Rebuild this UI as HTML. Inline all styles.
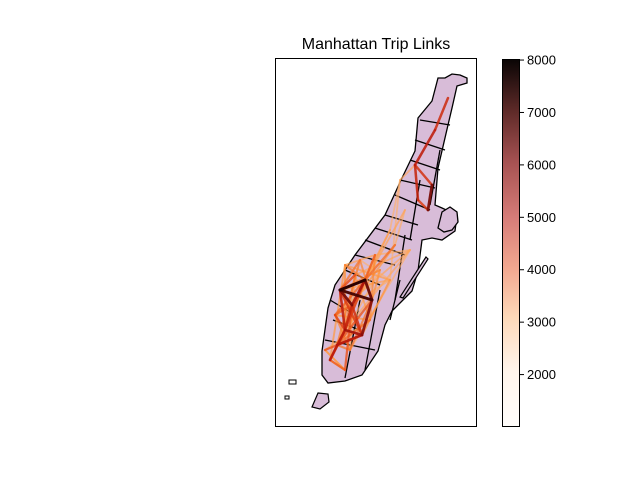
<!DOCTYPE html>
<html><head><meta charset="utf-8"><style>
html,body{margin:0;padding:0;background:#fff}
svg{display:block;font-family:"Liberation Sans","DejaVu Sans",sans-serif}
</style></head><body>
<svg id="c" width="640" height="480" viewBox="0 0 640 480">
<defs>
<linearGradient id="cm" x1="0" y1="1" x2="0" y2="0">
<stop offset="0" stop-color="#fffdfb"/>
<stop offset="0.15" stop-color="#fff5ec"/>
<stop offset="0.3" stop-color="#fdd8b8"/>
<stop offset="0.43" stop-color="#f2a890"/>
<stop offset="0.57" stop-color="#d67c78"/>
<stop offset="0.72" stop-color="#a65252"/>
<stop offset="0.86" stop-color="#5e2a28"/>
<stop offset="1" stop-color="#0a0505"/>
</linearGradient>
<clipPath id="ax"><rect x="275" y="58" width="202" height="369"/></clipPath>
</defs>
<text x="376" y="49" text-anchor="middle" font-size="16">Manhattan Trip Links</text>
<g id="map" clip-path="url(#ax)">
<polygon fill="#d8bcd8" stroke="#000" stroke-width="1.3" points="460,75 467,78 467,83 457,86 452,108 448,125 438,168 435,205 442,208 457,215 455,231 442,240 432,238 422,240 418,271 412,291 392,311 385,325 378,351 362,375 345,381 328,383 322,375 322,351 328,308 335,285 355,255 385,215 402,178 415,151 418,118 432,101 438,78 445,78 452,74"/>
<polygon fill="#d8bcd8" stroke="#000" stroke-width="1.3" points="442,212 450,207 457,212 458,222 452,230 444,232 438,228"/>
<polygon fill="#d8bcd8" stroke="#000" stroke-width="1.2" points="426,257 428,259 403,298 400,297"/>
<polygon fill="#d8bcd8" stroke="#000" stroke-width="1.2" points="318,393 328,394 329,402 320,409 312,407"/>
<rect x="289" y="380" width="7" height="4" fill="none" stroke="#000"/>
<rect x="285" y="396" width="4" height="3" fill="none" stroke="#000"/>
<g id="bounds" stroke="#000" stroke-width="1.3"></g>
<g id="links" stroke-linecap="round"></g>
</g>
<rect x="275.5" y="58.5" width="201" height="368" fill="none" stroke="#000"/>
<rect x="502.5" y="59.5" width="17" height="367" fill="url(#cm)" stroke="#000"/>
<g id="cticks" font-size="13"></g>
</svg>
<script>
// colorbar
const cbTicks=[2000,3000,4000,5000,6000,7000,8000];
const cbMin=1000, cbMax=8020;
// zones (map nodes) and links
const zoneX=[340,365,372,345,362,337,330,352,380,395,448,435,415,432,428,418,390,405,360,345,325,400,355,375,335,350,390,370,410,345];
const zoneY=[290,280,300,330,335,345,360,305,270,245,98,130,165,185,210,200,230,210,260,370,350,180,275,255,315,350,280,320,250,265];
const linkFrom=[0,0,0,1,1,2,2,3,3,4,5,0,1,7,7,6,8,9,10,11,12,13,14,12,8,9,18,18,19,20,16,17,21,2,4,6,0,3,9,16,22,22,23,23,24,24,25,25,26,26,27,27,28,28,29,29,22,23,24,25,26,27,28,29,1,5,7,3,20,19,6,26,28,16,21];
const linkTo=[1,2,3,2,3,4,5,4,5,5,6,7,7,3,4,3,0,1,11,12,13,14,15,15,2,7,0,5,6,19,1,7,12,18,20,19,4,6,17,21,0,3,1,5,3,7,2,24,0,4,5,22,3,23,1,6,25,27,26,28,29,24,22,23,24,25,19,29,27,20,8,18,24,5,26];
const linkVal=[8000,7600,6000,7200,5200,6800,4500,6500,4800,6200,5000,7000,6400,5800,5500,4200,3500,4000,5600,6000,5400,7000,5200,5800,3200,3000,3800,3600,4200,3000,2800,2600,2400,3400,4600,3900,5200,6100,2200,2000,4800,3600,4400,3000,5000,4200,3800,3400,2600,3200,4000,2800,2400,2200,3600,3000,2600,3400,2200,2000,2800,3000,2400,2600,4200,3800,4600,3200,2400,2600,2200,2000,2400,2200,2000];
const bLines=[[330,300,350,312],[333,320,360,330],[325,340,375,350],[345,270,380,285],[355,255,395,265],[365,240,405,255],[375,228,412,240],[385,215,418,225],[395,195,430,210],[400,180,435,188],[410,160,440,170],[415,140,445,150],[420,120,450,125],[360,300,345,378],[380,290,365,370],[400,280,390,320],[405,235,395,300],[420,180,410,240],[440,150,430,205]];
function cbY(v){return 427-(v-cbMin)/(cbMax-cbMin)*368;}
function lcol(v){
 const t=Math.max(0,Math.min(1,(v-cbMin)/(cbMax-cbMin)));
 const p=[[0,[255,200,150]],[0.3,[255,150,60]],[0.55,[230,70,20]],[0.75,[180,20,10]],[1,[40,0,0]]];
 for(let i=1;i<p.length;i++){if(t<=p[i][0]){const a=p[i-1],b=p[i],f=(t-a[0])/(b[0]-a[0]);return 'rgb('+a[1].map((c,k)=>Math.round(c+(b[1][k]-c)*f)).join(',')+')';}}
 return 'rgb(40,0,0)';
}
const NS='http://www.w3.org/2000/svg';
const bg=document.getElementById('bounds');
bLines.forEach((b,i)=>{const l=document.createElementNS(NS,'line');
l.setAttribute('x1',b[0]);l.setAttribute('y1',b[1]);l.setAttribute('x2',b[2]);l.setAttribute('y2',b[3]);


bg.appendChild(l);});
const lg=document.getElementById('links');
const order=linkVal.map((v,i)=>i).sort((a,b)=>linkVal[a]-linkVal[b]);
order.forEach(i=>{const f=linkFrom[i],t=linkTo[i],v=linkVal[i];const l=document.createElementNS(NS,'line');
l.setAttribute('x1',zoneX[f]);l.setAttribute('y1',zoneY[f]);l.setAttribute('x2',zoneX[t]);l.setAttribute('y2',zoneY[t]);
l.setAttribute('stroke',lcol(v));l.setAttribute('stroke-width',1.5+1.5*(v-cbMin)/(cbMax-cbMin));l.setAttribute('stroke-opacity',0.6+0.4*(v-cbMin)/(cbMax-cbMin));


lg.appendChild(l);});
const cg=document.getElementById('cticks');
cbTicks.forEach(v=>{const y=cbY(v);
const tk=document.createElementNS(NS,'line');tk.setAttribute('x1',520);tk.setAttribute('x2',524);tk.setAttribute('y1',y);tk.setAttribute('y2',y);tk.setAttribute('stroke','#000');


cg.appendChild(tk);
const tx=document.createElementNS(NS,'text');tx.setAttribute('x',527);tx.setAttribute('y',y+4.5);tx.textContent=v;


cg.appendChild(tx);});
</script>
</body></html>
